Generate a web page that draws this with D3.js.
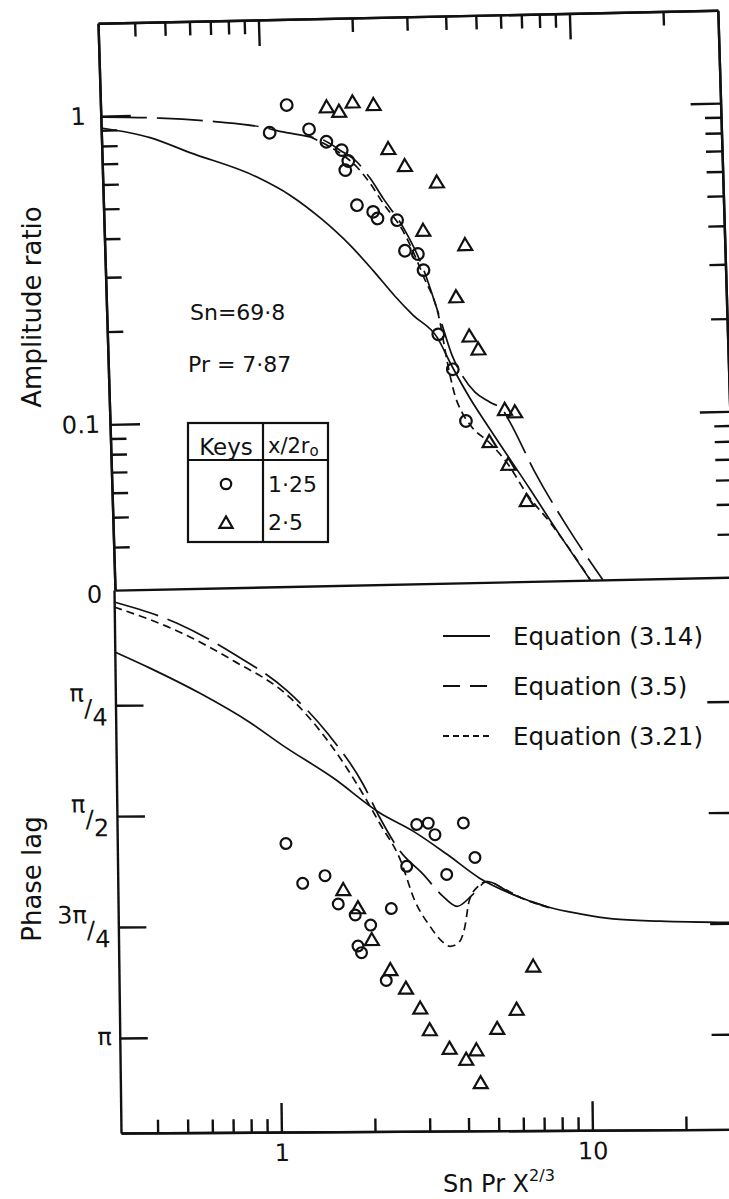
<!DOCTYPE html>
<html>
<head>
<meta charset="utf-8">
<title>Amplitude ratio and phase lag</title>
<script src="https://cdn.jsdelivr.net/npm/d3@7/dist/d3.min.js"></script>
<style>
  html, body { margin: 0; padding: 0; background: #fff; }
  svg { display: block; }
  text { font-family: "DejaVu Sans", sans-serif; fill: #111; }
  .axis path, .axis line { stroke: #111; stroke-width: 2.4; }
  .axis text { font-size: 24px; }
  .curve { fill: none; stroke: #111; stroke-width: 1.7; }
  .mark { fill: none; stroke: #111; stroke-width: 2.2; }
</style>
</head>
<body>
<div id="chartArea"></div>
<script>
// values
// x : Sn Pr X^(2/3), log scale shared by both panels
const xTicksMinor = [0.4, 0.5, 0.6, 0.7, 0.8, 0.9, 2, 3, 4, 5, 6, 7, 8, 9, 20];
const xTicksMajor = [1, 10];
const xTickLabels = ['1', '10'];

// top panel : amplitude ratio (log)
const ampTicksMajor = [1, 0.1];
const ampTickLabels = ['1', '0.1'];
const ampTicksMinor = [0.9, 0.8, 0.7, 0.6, 0.5, 0.4, 0.3, 0.2,
                       0.09, 0.08, 0.07, 0.06, 0.05, 0.04];

// x/2r0 = 1.25
const ampCircles = [
  [1.06, 0.860], [1.21, 1.055], [1.42, 0.877], [1.61, 0.797], [1.80, 0.747],
  [1.885, 0.688], [1.84, 0.643], [1.99, 0.494], [2.24, 0.469], [2.31, 0.446],
  [2.67, 0.439], [2.81, 0.349], [3.09, 0.340], [3.21, 0.301], [3.53, 0.186],
  [3.90, 0.143], [4.25, 0.097]
];
// x/2r0 = 2.5
const ampTriangles = [
  [1.625, 1.023], [1.78, 0.988], [1.97, 1.057], [2.30, 1.033], [2.54, 0.742],
  [2.86, 0.652], [3.61, 0.574], [3.23, 0.401], [4.39, 0.358], [4.06, 0.243],
  [4.44, 0.181], [4.73, 0.164], [5.68, 0.104], [6.12, 0.102], [5.03, 0.082],
  [5.76, 0.069], [6.54, 0.0525]
];

const ampEq314 = [
  [0.305, 0.915], [0.437, 0.845], [0.585, 0.751], [0.956, 0.619],
  [1.215, 0.538], [1.543, 0.444], [1.874, 0.367], [2.208, 0.303], [2.584, 0.249],
  [2.94, 0.2156], [3.494, 0.1822], [3.879, 0.1463], [4.399, 0.1149], [5.068, 0.0909],
  [6.725, 0.0577], [8.31, 0.0407], [10.3, 0.029]
];
const ampEq35 = [
  [0.305, 0.993], [0.472, 0.976], [0.72, 0.941], [0.988, 0.901], [1.17, 0.864],
  [1.428, 0.829], [1.571, 0.808], [1.776, 0.747], [2.01, 0.682], [2.205, 0.6035],
  [2.417, 0.5186], [2.785, 0.4163], [3.2, 0.3056], [3.587, 0.2099], [3.888, 0.1589],
  [4.168, 0.1367], [4.572, 0.1201], [5.098, 0.1112], [5.6, 0.1045], [5.887, 0.0954],
  [7.003, 0.0654], [8.766, 0.0435], [11.3, 0.029]
];
// runs on top of eq. 3.5 further left, so it is only drawn where it separates
const ampEq321 = [
  [1.428, 0.829], [1.57, 0.79], [1.776, 0.731], [2.006, 0.657], [2.202, 0.5813],
  [2.414, 0.4996], [2.784, 0.4042], [3.193, 0.29], [3.585, 0.2036], [3.741, 0.1532],
  [3.937, 0.1178], [4.135, 0.1036], [4.436, 0.0925], [5.013, 0.0825], [5.745, 0.0698],
  [6.57, 0.0556], [7.74, 0.0449], [9.22, 0.0347], [10.3, 0.029]
];

// bottom panel : phase lag, in units of pi
const phaseTicks = [0.25, 0.5, 0.75, 1];
const phaseTickNum = ['π', 'π', '3π', 'π'];
const phaseTickDen = ['4', '2', '4', ''];

const phaseCircles = [
  [1.063, 0.564], [1.199, 0.654], [1.415, 0.637], [1.557, 0.701], [1.763, 0.726],
  [1.975, 0.749], [1.795, 0.796], [1.841, 0.811], [2.305, 0.712], [2.205, 0.874],
  [2.593, 0.617], [2.804, 0.523], [3.055, 0.520], [3.207, 0.546], [3.961, 0.520],
  [3.484, 0.636], [4.302, 0.598]
];
const phaseTriangles = [
  [1.618, 0.672], [1.801, 0.713], [1.989, 0.785], [2.276, 0.853], [2.549, 0.895],
  [2.828, 0.940], [3.028, 0.989], [3.50, 1.031], [3.955, 1.056], [4.27, 1.035],
  [4.392, 1.109], [4.99, 0.987], [5.773, 0.944], [6.553, 0.847]
];

const phaseEq314 = [
  [0.305, 0.13], [0.395, 0.1668], [0.571, 0.2243], [0.824, 0.2907], [1.05, 0.3432],
  [1.516, 0.4165], [2.139, 0.4965], [2.728, 0.5378], [3.5, 0.5905], [4.457, 0.6453],
  [5.68, 0.682], [7.3, 0.71], [9.31, 0.7265], [11.88, 0.7384], [16.83, 0.744], [30, 0.748]
];
const phaseEq35 = [
  [0.305, 0.0172], [0.485, 0.066], [0.732, 0.1349], [1.087, 0.2195], [1.466, 0.3173],
  [1.891, 0.4309], [2.138, 0.5078], [2.471, 0.5826], [2.924, 0.635], [3.383, 0.6852],
  [3.75, 0.708], [4.224, 0.6811], [4.692, 0.6523], [5.68, 0.682], [7.3, 0.71]
];
const phaseEq321 = [
  [0.305, 0.0285], [0.495, 0.0863], [0.731, 0.1507], [1.111, 0.2353], [1.487, 0.3398],
  [1.889, 0.4535], [2.138, 0.5213], [2.47, 0.6006], [2.749, 0.6958], [3.063, 0.7524],
  [3.343, 0.7866], [3.547, 0.7979], [3.763, 0.7914], [3.969, 0.7533], [4.101, 0.6969],
  [4.388, 0.6633], [4.692, 0.6523], [5.358, 0.6705], [6.21, 0.6937], [7.46, 0.7125]
];

const legendLabels = ['Equation (3.14)', 'Equation (3.5)', 'Equation (3.21)'];
const legendDashes = [null, '17,10', '6,4'];
const keyLabels = ['1·25', '2·5'];

const dashLong = '46,10';
const dashShort = '8,5';

// ------------------------------------------------------------------
let svg = d3.select('#chartArea').append('svg')
   .attr('width', 729)
   .attr('height', 1199);

svg.append('rect').attr('width', 729).attr('height', 1199).attr('fill', '#fff');

let x = d3.scaleLog().domain([0.305, 30]).range([0, 619.8]);
let yAmp = d3.scaleLog().domain([0.029, 2]).range([566.85, 0]);
let yPhase = d3.scaleLinear().domain([-0.0098, 1.2143]).range([0, 543]);

let plotW = x.range()[1];
let topH = yAmp.range()[0];
let botH = yPhase.range()[1];

let addAxis = function (parent, axis, dx, dy) {
   let g = parent.append('g')
      .attr('class', 'axis')
      .attr('transform', `translate(${dx},${dy})`)
      .call(axis);
   g.attr('font-family', null).attr('font-size', null).attr('color', '#111');
   return g;
}

// the scan is slightly skewed, each panel gets its own shear
let topPanel = svg.append('g').attr('transform', 'matrix(1,-0.021,0.03,1,98,23.3)');
let botPanel = svg.append('g').attr('transform', 'matrix(1,-0.006,0.0129,1,114,590)');

// ---- top panel frame ----
addAxis(topPanel, d3.axisTop(x).tickValues(xTicksMinor).tickSize(-14).tickSizeOuter(0).tickFormat(''), 0, 0);
addAxis(topPanel, d3.axisTop(x).tickValues(xTicksMajor).tickSize(-26).tickSizeOuter(0).tickFormat(''), 0, 0);
addAxis(topPanel, d3.axisBottom(x).tickValues([]).tickSizeOuter(0), 0, topH);
addAxis(topPanel, d3.axisLeft(yAmp).tickValues(ampTicksMinor).tickSize(-16).tickSizeOuter(0).tickFormat(''), 0, 0);
let ampLab = addAxis(topPanel, d3.axisLeft(yAmp).tickValues(ampTicksMajor).tickSize(-30).tickSizeOuter(0)
   .tickPadding(10).tickFormat((d, i) => ampTickLabels[i]), 0, 0);
ampLab.selectAll('.tick text').attr('dx', d => d === 1 ? -5 : 0);
addAxis(topPanel, d3.axisRight(yAmp).tickValues(ampTicksMinor).tickSize(-16).tickSizeOuter(0).tickFormat(''), plotW, 0);
addAxis(topPanel, d3.axisRight(yAmp).tickValues(ampTicksMajor).tickSize(-30).tickSizeOuter(0).tickFormat(''), plotW, 0);

let lineAmp = d3.line()
   .x(d => x(d[0]))
   .y(d => yAmp(d[1]))
   .curve(d3.curveMonotoneX);

topPanel.append('path').datum(ampEq314).attr('class', 'curve').attr('d', lineAmp);
topPanel.append('path').datum(ampEq35).attr('class', 'curve').attr('stroke-dasharray', dashLong).attr('d', lineAmp);
topPanel.append('path').datum(ampEq321).attr('class', 'curve').attr('stroke-dasharray', dashShort).attr('d', lineAmp);

topPanel.selectAll('circle.pt').data(ampCircles)
   .enter().append('circle')
   .attr('class', 'mark pt')
   .attr('cx', d => x(d[0]))
   .attr('cy', d => yAmp(d[1]))
   .attr('r', 5.8);

topPanel.selectAll('path.tri').data(ampTriangles)
   .enter().append('path')
   .attr('class', 'mark tri')
   .attr('transform', d => `translate(${x(d[0])},${yAmp(d[1])})`)
   .attr('d', d3.symbol(d3.symbolTriangle, 84));

// ---- bottom panel frame ----
addAxis(botPanel, d3.axisLeft(yPhase).tickValues(phaseTicks).tickSize(-28).tickSizeOuter(0).tickFormat(''), 0, 0);
let zeroAxis = addAxis(botPanel, d3.axisLeft(yPhase).tickValues([0]).tickSize(0).tickPadding(12).tickFormat(() => '0'), 0, 0);
zeroAxis.select('.domain').remove();
addAxis(botPanel, d3.axisRight(yPhase).tickValues(phaseTicks).tickSize(-28).tickSizeOuter(0).tickFormat(''), plotW, 0);
addAxis(botPanel, d3.axisBottom(x).tickValues(xTicksMinor).tickSize(-13).tickSizeOuter(0).tickFormat(''), 0, botH);
addAxis(botPanel, d3.axisBottom(x).tickValues(xTicksMajor).tickSize(-29).tickSizeOuter(0)
   .tickPadding(12).tickFormat((d, i) => xTickLabels[i]), 0, botH);

// pi labels written as small stacked fractions
let piLabels = botPanel.append('g').selectAll('text').data(phaseTicks)
   .enter().append('text')
   .attr('x', -8)
   .attr('y', d => yPhase(d))
   .attr('text-anchor', 'end')
   .attr('font-size', 24);
piLabels.each(function (d, i) {
   let t = d3.select(this);
   if (phaseTickDen[i] === '') {
      t.append('tspan').attr('dy', 7).text(phaseTickNum[i]);
   } else {
      t.append('tspan').attr('dy', -4).text(phaseTickNum[i]);
      t.append('tspan').attr('dy', 15).text('/');
      t.append('tspan').attr('dy', 9).text(phaseTickDen[i]);
   }
});

let linePhase = d3.line()
   .x(d => x(d[0]))
   .y(d => yPhase(d[1]))
   .curve(d3.curveMonotoneX);

botPanel.append('path').datum(phaseEq314).attr('class', 'curve').attr('d', linePhase);
botPanel.append('path').datum(phaseEq35).attr('class', 'curve').attr('stroke-dasharray', dashLong).attr('d', linePhase);
botPanel.append('path').datum(phaseEq321).attr('class', 'curve').attr('stroke-dasharray', dashShort).attr('d', linePhase);

botPanel.selectAll('circle.pt').data(phaseCircles)
   .enter().append('circle')
   .attr('class', 'mark pt')
   .attr('cx', d => x(d[0]))
   .attr('cy', d => yPhase(d[1]))
   .attr('r', 5.4);

botPanel.selectAll('path.tri').data(phaseTriangles)
   .enter().append('path')
   .attr('class', 'mark tri')
   .attr('transform', d => `translate(${x(d[0])},${yPhase(d[1])})`)
   .attr('d', d3.symbol(d3.symbolTriangle, 84));

// ---- axis titles ----
svg.append('text')
   .attr('transform', 'translate(41,307) rotate(-90)')
   .attr('text-anchor', 'middle')
   .attr('font-size', 26)
   .text('Amplitude ratio');

svg.append('text')
   .attr('transform', 'translate(41,879) rotate(-90)')
   .attr('text-anchor', 'middle')
   .attr('font-size', 26)
   .text('Phase lag');

let xTitle = svg.append('text')
   .attr('x', 443)
   .attr('y', 1192)
   .attr('font-size', 24);
xTitle.append('tspan').text('Sn Pr X');
xTitle.append('tspan').attr('dy', -11).attr('font-size', 16).text('2/3');

// ---- parameters ----
svg.append('text').attr('x', 190).attr('y', 320).attr('font-size', 22).text('Sn=69·8');
svg.append('text').attr('x', 188).attr('y', 372).attr('font-size', 22).text('Pr = 7·87');

// ---- key table ----
let keyG = svg.append('g');
keyG.append('rect')
   .attr('x', 188).attr('y', 423).attr('width', 140).attr('height', 119)
   .attr('fill', 'none').attr('stroke', '#111').attr('stroke-width', 2.2);
keyG.append('line').attr('x1', 188).attr('x2', 328).attr('y1', 460).attr('y2', 460)
   .attr('stroke', '#111').attr('stroke-width', 2.2);
keyG.append('line').attr('x1', 263).attr('x2', 263).attr('y1', 423).attr('y2', 542)
   .attr('stroke', '#111').attr('stroke-width', 2.2);
keyG.append('text').attr('x', 226).attr('y', 455).attr('text-anchor', 'middle')
   .attr('font-size', 23).text('Keys');
let hdr = keyG.append('text').attr('x', 268).attr('y', 453).attr('font-size', 21);
hdr.append('tspan').text('x/2r');
hdr.append('tspan').attr('dy', 3).attr('font-size', 15).text('o');
keyG.append('circle').attr('class', 'mark').attr('cx', 226).attr('cy', 484).attr('r', 5.2);
keyG.append('path').attr('class', 'mark')
   .attr('transform', 'translate(226,524)')
   .attr('d', d3.symbol(d3.symbolTriangle, 75));
keyG.selectAll('text.kv').data(keyLabels)
   .enter().append('text')
   .attr('class', 'kv')
   .attr('x', 268)
   .attr('y', (d, i) => 492 + i * 38)
   .attr('font-size', 22)
   .text(d => d);

// ---- line legend ----
let leg = svg.append('g').selectAll('g').data(legendLabels)
   .enter().append('g')
   .attr('transform', (d, i) => `translate(443,${636 + i * 50})`);
leg.append('line')
   .attr('x1', 0).attr('x2', 47)
   .attr('stroke', '#111').attr('stroke-width', 1.9)
   .attr('stroke-dasharray', (d, i) => legendDashes[i]);
leg.append('text')
   .attr('x', 70)
   .attr('y', 9)
   .attr('font-size', 24.5)
   .text(d => d);
</script>
</body>
</html>
